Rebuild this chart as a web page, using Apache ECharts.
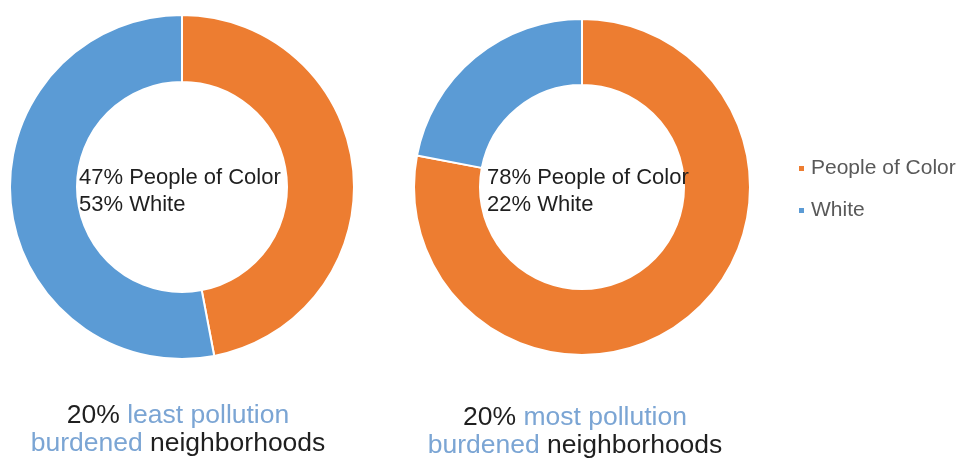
<!DOCTYPE html>
<html>
<head>
<meta charset="utf-8">
<script src="https://cdn.jsdelivr.net/npm/echarts@6/dist/echarts.min.js"></script>
<style>
  html, body { margin: 0; padding: 0; background: #ffffff; }
  #chart { width: 966px; height: 464px; }
</style>
</head>
<body>
<div id="chart"></div>
<script>
// Racial composition of neighborhoods by pollution burden
const groups = ['People of Color', 'White'];
const leastBurdened = [47, 53];   // 20% least pollution burdened neighborhoods
const mostBurdened = [78, 22];    // 20% most pollution burdened neighborhoods
const captions = [
  ['20% ', 'least pollution', 'burdened', ' neighborhoods'],
  ['20% ', 'most pollution', 'burdened', ' neighborhoods']
];

const COLORS = ['#ED7D31', '#5B9BD5'];
const FONT = '"Liberation Sans", Arial, sans-serif';

const chart = echarts.init(document.getElementById('chart'));

function pieSeries(values, center, radius) {
  return {
    type: 'pie',
    center: center,
    radius: radius,
    startAngle: 90,
    clockwise: true,
    avoidLabelOverlap: false,
    label: { show: false },
    labelLine: { show: false },
    emphasis: { disabled: true },
    itemStyle: { borderColor: '#ffffff', borderWidth: 2 },
    data: groups.map((g, i) => ({ name: g, value: values[i] }))
  };
}

// Two-line summary printed inside each ring (drawn above the ring)
function centerText(values, x) {
  return {
    type: 'text',
    x: x,
    y: 164,
    z: 100,
    style: {
      text: groups.map((g, i) => values[i] + '% ' + g).join('\n'),
      font: '22px ' + FONT,
      lineHeight: 27,
      fill: '#1f1f1f'
    }
  };
}

function caption(parts, cx, y) {
  return {
    type: 'text',
    x: cx,
    y: y,
    z: 100,
    style: {
      text: '{k|' + parts[0] + '}{b|' + parts[1] + '}\n{b|' + parts[2] + '}{k|' + parts[3] + '}',
      align: 'center',
      verticalAlign: 'top',
      rich: {
        k: { fontSize: 26.5, fontFamily: FONT, fill: '#1f1f1f', lineHeight: 28 },
        b: { fontSize: 26.5, fontFamily: FONT, fill: '#7ba5d4', lineHeight: 28 }
      }
    }
  };
}

chart.setOption({
  animation: false,
  color: COLORS,
  legend: {
    orient: 'vertical',
    left: 792,
    top: 153,
    icon: 'rect',
    itemWidth: 7,
    itemHeight: 7,
    itemGap: 21,
    selectedMode: false,
    textStyle: { fontSize: 21, fontFamily: FONT, color: '#595959', padding: [0, 0, 0, 1] },
    data: groups
  },
  series: [
    pieSeries(leastBurdened, [182, 187], [105, 172]),
    pieSeries(mostBurdened, [582, 187], [102, 168])
  ],
  graphic: [
    centerText(leastBurdened, 79),
    centerText(mostBurdened, 487),
    caption(captions[0], 178, 402),
    caption(captions[1], 575, 404)
  ]
});
</script>
</body>
</html>
